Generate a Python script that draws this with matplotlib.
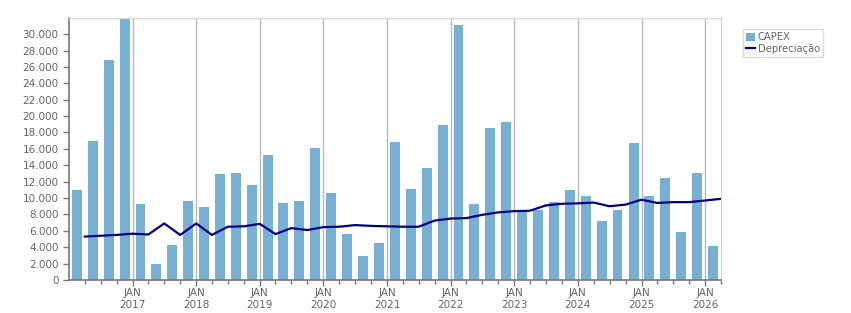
import numpy as np
import pandas as pd
import matplotlib
matplotlib.use("Agg")
import matplotlib.pyplot as plt
import matplotlib.dates as mdates
from matplotlib.ticker import FuncFormatter, MultipleLocator

# CAPEX trimestral (1T2016 .. 1T2026)
capex = [11000, 17000, 26900, 33500,
         9250, 2000, 4300, 9700,
         8900, 12900, 13100, 11600,
         15200, 9400, 9700, 16100,
         10600, 5600, 2900, 4500,
         16800, 11100, 13700, 18900,
         31100, 9250, 18500, 19300,
         8500, 8500, 9500, 11000,
         10300, 7200, 8600, 16700,
         10300, 12500, 5800, 13100,
         4100]

# Depreciação no fim de cada trimestre (abr/2016 .. abr/2026)
depreciacao = [5300, 5400, 5500, 5650,
               5550, 6900, 5500, 6900,
               5500, 6500, 6550, 6850,
               5600, 6330, 6100, 6450,
               6500, 6700, 6600, 6550,
               6500, 6500, 7250, 7500,
               7550, 7950, 8250, 8400,
               8450, 9100, 9300, 9350,
               9450, 9000, 9200, 9800,
               9400, 9500, 9500, 9700,
               9900]

quarters = pd.period_range("2016Q1", "2026Q1", freq="Q")
bar_x = [q.start_time + (q.end_time - q.start_time) / 2 for q in quarters]
line_x = [(q + 1).start_time for q in quarters]

fig = plt.figure(figsize=(8.51, 3.13), dpi=100)
ax = fig.add_axes([0.081, 0.1054, 0.766, 0.838])

bars = ax.bar(bar_x, capex, width=57, color="#78b0d3", label="CAPEX", zorder=2)
line, = ax.plot(line_x, depreciacao, color="#000080", lw=1.6, label="Depreciação", zorder=3)

ax.set_ylim(0, 32000)
ax.set_xlim(pd.Timestamp("2016-01-01"), pd.Timestamp("2026-04-01"))

ax.set_yticks(np.arange(0, 30001, 2000))
ax.yaxis.set_minor_locator(MultipleLocator(2000))
ax.yaxis.set_major_formatter(FuncFormatter(lambda v, p: f"{v:,.0f}".replace(",", ".")))
ax.grid(axis="y", which="minor", color="#dcdcdc", lw=1, zorder=0)
ax.tick_params(axis="y", which="minor", length=0)

ax.xaxis.set_major_locator(mdates.YearLocator(month=1))
ax.xaxis.set_major_formatter(FuncFormatter(
    lambda v, p: "JAN\n" + mdates.num2date(v).strftime("%Y")))
ax.xaxis.set_minor_locator(mdates.MonthLocator(bymonth=[4, 7, 10]))
ax.grid(axis="x", which="major", color="#b8b8b8", lw=1.0, zorder=1)

ax.tick_params(axis="both", which="major", labelsize=7.5, labelcolor="#666666",
               color="#777777", length=4, width=1)
ax.tick_params(axis="x", which="minor", color="#777777", length=3, width=1)
ax.tick_params(axis="x", which="major", pad=2)

# 2016 sem rótulo
labels = ax.get_xticks()
ax.set_xticks([t for t in labels if mdates.num2date(t).year >= 2017])

for s in ["left", "bottom"]:
    ax.spines[s].set_color("#777777")
    ax.spines[s].set_linewidth(1.2)
for s in ["top", "right"]:
    ax.spines[s].set_color("#dcdcdc")
    ax.spines[s].set_linewidth(1)

leg = fig.legend(handles=[bars, line], loc="upper left",
                 bbox_to_anchor=(0.873, 0.906), fontsize=7.2,
                 frameon=True, fancybox=False, framealpha=1,
                 edgecolor="#dcdcdc", handlelength=0.9, handleheight=1.0,
                 handletextpad=0.3, borderpad=0.3, labelspacing=0.2,
                 borderaxespad=0)
for t in leg.get_texts():
    t.set_color("#666666")

fig.savefig("out.png", dpi=100)
